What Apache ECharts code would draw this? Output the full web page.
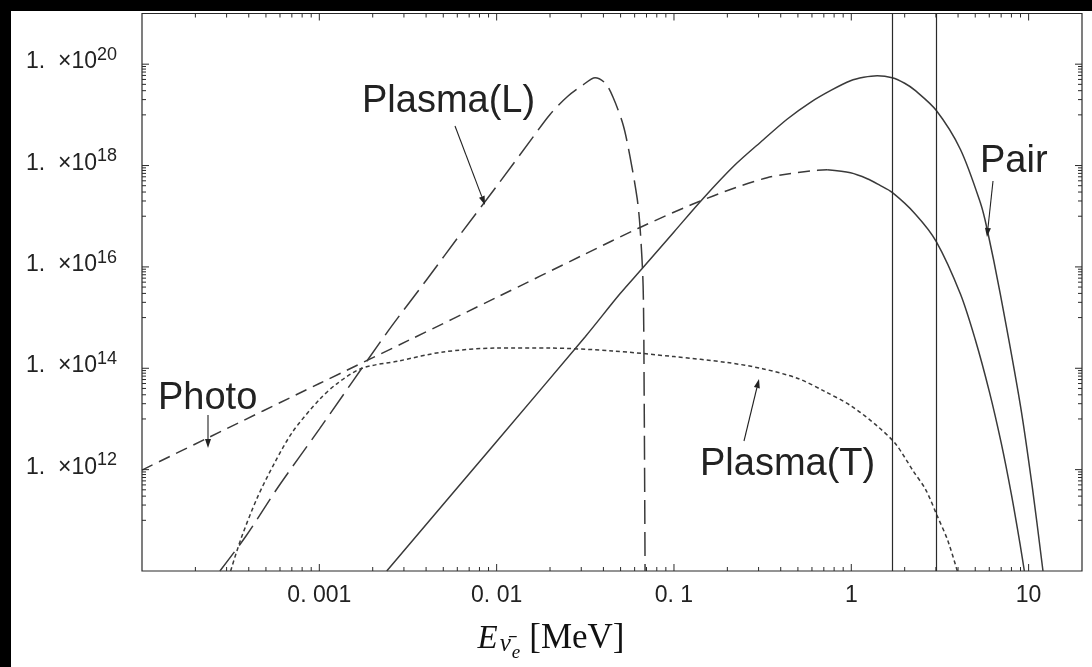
<!DOCTYPE html>
<html>
<head>
<meta charset="utf-8">
<script src="https://cdn.jsdelivr.net/npm/echarts@6/dist/echarts.min.js"></script>
<style>
  html, body { margin: 0; padding: 0; background: #000; }
  #chart { width: 1092px; height: 667px; }
</style>
</head>
<body>
<div id="chart"></div>
<script>
// neutrino energy E [MeV] and emission rate
const photoE = [1e-4, 2.34e-4, 1e-3, 3.16e-3, 0.01, 0.0316, 0.063, 0.126, 0.224, 0.335, 0.447, 0.586, 0.731]
const photoY = [9.8e11, 4.2e12, 5.0e13, 3.5e14, 2.5e15, 1.8e16, 5.8e16, 1.7e17, 3.7e17, 5.75e17, 6.9e17, 7.8e17, 8.3e17]

// the photo curve is drawn solid past its maximum
const photoTailE = [0.731, 0.99, 1.23, 1.445, 1.7, 2.3, 3.01, 4.12, 5.0, 6.0, 7.0, 8.0, 9.0, 9.46]
const photoTailY = [8.3e17, 7.2e17, 5.5e17, 4.1e17, 2.95e17, 1.1e17, 3.2e16, 2.95e15, 3.7e14, 3.5e13, 3.4e12, 3.2e11, 3.0e10, 1e10]

const pairE = [0.0024, 0.01, 0.0316, 0.0496, 0.0658, 0.1, 0.146, 0.219, 0.318, 0.436, 0.586, 0.776, 0.99, 1.175, 1.4, 1.7, 2.0, 2.3, 3.01, 4.12, 5.34, 5.82, 6.92, 9.0, 10.5, 12.05]
const pairY = [1e10, 3.6e12, 4.2e14, 2.95e15, 9.1e15, 4.9e16, 2.24e17, 1.0e18, 3.2e18, 8.3e18, 1.75e19, 3.1e19, 4.7e19, 5.5e19, 5.9e19, 5.4e19, 4.2e19, 3.0e19, 1.23e19, 2.1e18, 1.86e17, 5.8e16, 2.95e15, 1.8e13, 4.4e11, 1e10]

const plasmaLE = [2.75e-4, 3.86e-4, 5.9e-4, 1e-3, 2.44e-3, 4e-3, 6.3e-3, 0.01, 0.0158, 0.02, 0.0251, 0.0307, 0.0359, 0.041, 0.0454, 0.0517, 0.0565, 0.062, 0.0644, 0.067, 0.0679, 0.0687]
const plasmaLY = [1e10, 4.9e10, 4.7e11, 6.3e12, 5.4e14, 5.4e15, 4.6e16, 3.9e17, 3.4e18, 1.02e19, 2.3e19, 3.9e19, 5.4e19, 4.2e19, 2.2e19, 6.3e18, 1.5e18, 2.24e17, 5.9e16, 4.1e15, 3.2e13, 1e10]

const plasmaTE = [3.16e-4, 3.63e-4, 4.47e-4, 5.62e-4, 7.08e-4, 1e-3, 1.26e-3, 1.74e-3, 2.82e-3, 5e-3, 0.01, 0.02, 0.045, 0.1, 0.2, 0.316, 0.5, 0.708, 1.0, 1.41, 1.78, 2.23, 2.63, 3.05, 3.5, 3.96]
const plasmaTY = [1e10, 4.5e10, 2.8e11, 1.4e12, 5.6e12, 2.4e13, 5e13, 1e14, 1.4e14, 2.1e14, 2.5e14, 2.5e14, 2.2e14, 1.7e14, 1.3e14, 9.8e13, 6.3e13, 3.5e13, 1.8e13, 7.1e12, 3.2e12, 9.5e11, 4e11, 1.23e11, 4e10, 1e10]

// thresholds marked by the two vertical lines
const thresholds = [1.7, 3.0]

const xTickValues = [0.001, 0.01, 0.1, 1, 10]
const xTickLabels = ['0. 001', '0. 01', '0. 1', '1', '10']
const yTickPowers = [12, 14, 16, 18, 20]

const ink = '#3a3a3a'
const frame = '#2a2a2a'
const sans = '"Liberation Sans", Arial, sans-serif'
const serif = '"Liberation Serif", "Times New Roman", serif'

const zip = (xs, ys) => xs.map((x, i) => [x, ys[i]])

function curve(name, xs, ys, dash) {
  return {
    type: 'line',
    name,
    data: zip(xs, ys),
    showSymbol: false,
    smooth: 0.3,
    clip: true,
    silent: true,
    lineStyle: { color: ink, width: 1.5, type: dash },
  }
}

// log ticks: 2..9 per decade on x, odd-decade clusters on y
const xMinorTicks = []
for (let k = -4; k <= 1; k++) {
  for (let m = 2; m <= 9; m++) {
    const v = m * Math.pow(10, k)
    if (v < 20) xMinorTicks.push(v)
  }
}
const yMajorTicks = yTickPowers.map((p) => Math.pow(10, p))
const yMinorTicks = []
for (const k of [11, 13, 15, 17, 19]) {
  for (let m = 1; m <= 9; m++) yMinorTicks.push(m * Math.pow(10, k))
}

function tickSeries(values, axis, len) {
  return {
    type: 'custom',
    silent: true,
    clip: false,
    z: 5,
    data: values.map((v) => (axis === 'x' ? [v, 1e15] : [0.01, v])),
    renderItem(params, api) {
      const cs = params.coordSys
      const p = api.coord([api.value(0), api.value(1)])
      const st = { stroke: frame, lineWidth: 1 }
      if (axis === 'x') {
        const b = cs.y + cs.height
        return {
          type: 'group',
          children: [
            { type: 'line', shape: { x1: p[0], y1: b, x2: p[0], y2: b - len }, style: st },
            { type: 'line', shape: { x1: p[0], y1: cs.y, x2: p[0], y2: cs.y + len }, style: st },
          ],
        }
      }
      const r = cs.x + cs.width
      return {
        type: 'group',
        children: [
          { type: 'line', shape: { x1: cs.x, y1: p[1], x2: cs.x + len, y2: p[1] }, style: st },
          { type: 'line', shape: { x1: r, y1: p[1], x2: r - len, y2: p[1] }, style: st },
        ],
      }
    },
  }
}

function label(text, x, y) {
  return {
    type: 'text',
    x,
    y,
    z: 20,
    style: { text, font: '38px ' + sans, fill: '#222', textAlign: 'left', textVerticalAlign: 'middle' },
  }
}

function arrow(x1, y1, x2, y2) {
  const a = Math.atan2(y2 - y1, x2 - x1)
  const L = 9
  const W = 3
  const bx = x2 - L * Math.cos(a)
  const by = y2 - L * Math.sin(a)
  return [
    { type: 'line', z: 20, shape: { x1, y1, x2: bx, y2: by }, style: { stroke: '#222', lineWidth: 1.1 } },
    {
      type: 'polygon',
      z: 20,
      shape: { points: [[x2, y2], [bx + W * Math.sin(a), by - W * Math.cos(a)], [bx - W * Math.sin(a), by + W * Math.cos(a)]] },
      style: { fill: '#222' },
    },
  ]
}

const chart = echarts.init(document.getElementById('chart'))

const option = {
  animation: false,
  backgroundColor: '#fff',
  grid: {
    left: 142,
    right: 10,
    top: 13.5,
    bottom: 85,
    show: true,
    borderColor: frame,
    borderWidth: 1.2,
    backgroundColor: 'transparent',
  },
  xAxis: {
    type: 'log',
    logBase: 10,
    min: 1e-4,
    max: 20,
    axisLine: { show: false },
    axisTick: { show: false },
    splitLine: { show: false },
    axisLabel: {
      customValues: xTickValues,
      margin: 13,
      fontSize: 23,
      fontFamily: sans,
      color: '#222',
      formatter: (v) => {
        const i = xTickValues.findIndex((t) => Math.abs(Math.log10(t) - Math.log10(v)) < 1e-6)
        return i >= 0 ? xTickLabels[i] : ''
      },
    },
    name: '{i|E}{n|ν̄}{s|e}{t|[MeV]}',
    nameLocation: 'middle',
    nameGap: 50,
    nameTextStyle: {
      padding: [0, 122, 0, 0],
      rich: {
        i: { fontFamily: serif, fontStyle: 'italic', fontSize: 33, color: '#111', padding: [0, 0, 8, 0], verticalAlign: 'bottom' },
        n: { fontFamily: serif, fontStyle: 'italic', fontSize: 25, color: '#111', padding: [0, 0, 7, 2], verticalAlign: 'bottom' },
        s: { fontFamily: serif, fontStyle: 'italic', fontSize: 19, color: '#111', padding: [0, 0, 2, 1], verticalAlign: 'bottom' },
        t: { fontFamily: serif, fontSize: 35, color: '#111', padding: [0, 0, 8, 9], verticalAlign: 'bottom' },
      },
    },
  },
  yAxis: {
    type: 'log',
    logBase: 10,
    min: 1e10,
    max: 1e21,
    axisLine: { show: false },
    axisTick: { show: false },
    splitLine: { show: false },
    axisLabel: {
      customValues: yTickPowers.map((p) => Math.pow(10, p)),
      margin: 25,
      padding: [0, 0, 9, 0],
      formatter: (v) => {
        const p = Math.round(Math.log10(v))
        return yTickPowers.includes(p) ? '{m|1.  ×10}{s|' + p + '}' : ''
      },
      rich: {
        m: { fontFamily: sans, fontSize: 23, color: '#222', verticalAlign: 'bottom' },
        s: { fontFamily: sans, fontSize: 18, color: '#222', padding: [0, 0, 9.5, 0], verticalAlign: 'bottom' },
      },
    },
  },
  series: [
    curve('Photo', photoE, photoY, [12, 7]),
    curve('Photo tail', photoTailE, photoTailY, 'solid'),
    {
      ...curve('Pair', pairE, pairY, 'solid'),
      markLine: {
        silent: true,
        symbol: 'none',
        label: { show: false },
        lineStyle: { color: frame, width: 1.2, type: 'solid' },
        data: thresholds.map((v) => ({ xAxis: v })),
      },
    },
    curve('Plasma(L)', plasmaLE, plasmaLY, [24, 8]),
    curve('Plasma(T)', plasmaTE, plasmaTY, [4, 3]),
    tickSeries(xTickValues, 'x', 7),
    tickSeries(xMinorTicks, 'x', 4),
    tickSeries(yMajorTicks, 'y', 7),
    tickSeries(yMinorTicks, 'y', 4),
  ],
  graphic: [
    { type: 'rect', z: 30, shape: { x: 0, y: 0, width: 1092, height: 11 }, style: { fill: '#000' } },
    { type: 'rect', z: 30, shape: { x: 0, y: 0, width: 11, height: 667 }, style: { fill: '#000' } },
    label('Photo', 158, 399),
    ...arrow(208, 415, 208, 448),
    label('Plasma(L)', 362, 102),
    ...arrow(455, 126, 485, 205),
    label('Pair', 980, 162),
    ...arrow(993, 181, 987, 237),
    label('Plasma(T)', 700, 465),
    ...arrow(744, 441, 759, 379),
  ],
}

chart.setOption(option)
</script>
</body>
</html>
